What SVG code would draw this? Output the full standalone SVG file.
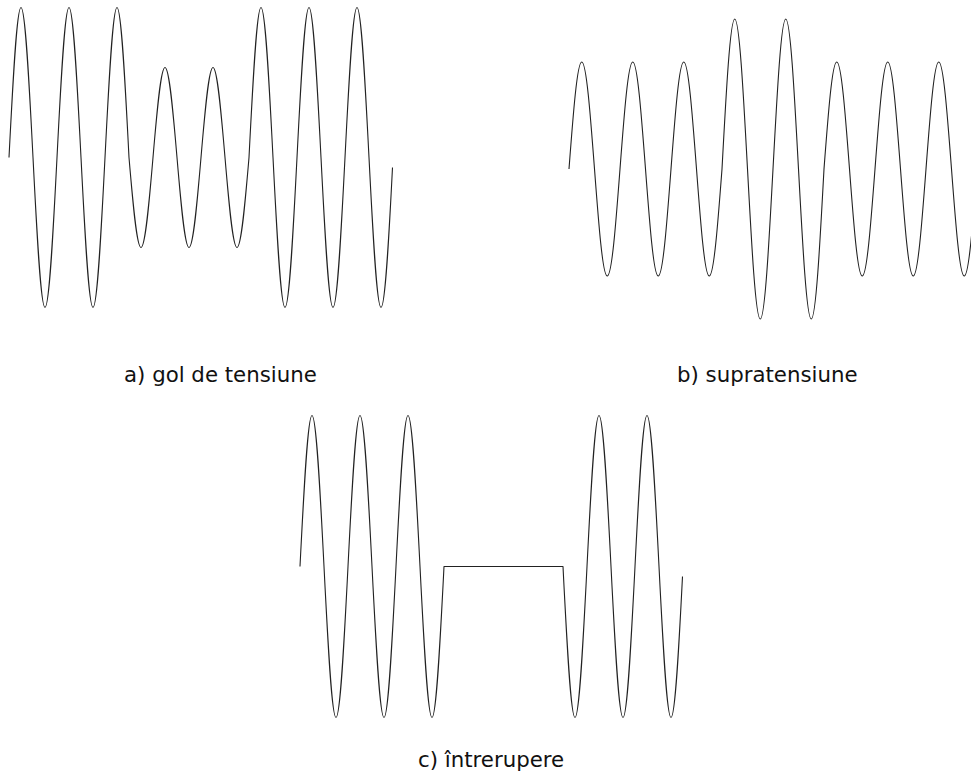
<svg xmlns="http://www.w3.org/2000/svg" width="971" height="774" viewBox="0 0 971 774">
<style>
.w{fill:none;stroke:#222;stroke-width:1.1;stroke-linejoin:round}
.t{font-family:"DejaVu Sans","Verdana",sans-serif;font-size:21.3px;fill:#111}
</style>
<rect width="971" height="774" fill="#fff"/>
<g id="wave-a">
<path class="w" d="M9,157.5
c 3.913,-76.85 7.657,-150 12,-150 c 4.343,0 8.087,73.15 12,150 c 3.913,76.85 7.657,150 12,150 c 4.343,0 8.087,-73.15 12,-150
c 3.913,-76.85 7.657,-150 12,-150 c 4.343,0 8.087,73.15 12,150 c 3.913,76.85 7.657,150 12,150 c 4.343,0 8.087,-73.15 12,-150
c 3.913,-76.85 7.657,-150 12,-150 c 4.343,0 8.087,73.15 12,150
c 3.913,46.11 7.657,90 12,90 c 4.343,0 8.087,-43.89 12,-90
c 3.913,-46.11 7.657,-90 12,-90 c 4.343,0 8.087,43.89 12,90 c 3.913,46.11 7.657,90 12,90 c 4.343,0 8.087,-43.89 12,-90
c 3.913,-46.11 7.657,-90 12,-90 c 4.343,0 8.087,43.89 12,90 c 3.913,46.11 7.657,90 12,90 c 4.343,0 8.087,-43.89 12,-90
c 3.913,-76.85 7.657,-150 12,-150 c 4.343,0 8.087,73.15 12,150 c 3.913,76.85 7.657,150 12,150 c 4.343,0 8.087,-73.15 12,-150
c 3.913,-76.85 7.657,-150 12,-150 c 4.343,0 8.087,73.15 12,150 c 3.913,76.85 7.657,150 12,150 c 4.343,0 8.087,-73.15 12,-150
c 3.913,-76.85 7.657,-150 12,-150 c 4.343,0 8.087,73.15 12,150 c 3.913,76.85 7.657,150 12,150 c 4.343,0 8.087,-73.15 11.5,-140"/>
<text class="t" x="124" y="382">a) gol de tensiune</text>
</g>
<g id="wave-b">
<path class="w" d="M569,169
c 4.158,-54.82 8.136,-107 12.75,-107 c 4.614,0 8.592,52.18 12.75,107 c 4.158,54.82 8.136,107 12.75,107 c 4.614,0 8.592,-52.18 12.75,-107
c 4.158,-54.82 8.136,-107 12.75,-107 c 4.614,0 8.592,52.18 12.75,107 c 4.158,54.82 8.136,107 12.75,107 c 4.614,0 8.592,-52.18 12.75,-107
c 4.158,-54.82 8.136,-107 12.75,-107 c 4.614,0 8.592,52.18 12.75,107 c 4.158,54.82 8.136,107 12.75,107 c 4.614,0 8.592,-52.18 12.75,-107
c 4.158,-76.85 8.136,-150 12.75,-150 c 4.614,0 8.592,73.15 12.75,150 c 4.158,76.85 8.136,150 12.75,150 c 4.614,0 8.592,-73.15 12.75,-150
c 4.158,-76.85 8.136,-150 12.75,-150 c 4.614,0 8.592,73.15 12.75,150 c 4.158,76.85 8.136,150 12.75,150 c 4.614,0 8.592,-73.15 12.75,-150
c 4.158,-54.82 8.136,-107 12.75,-107 c 4.614,0 8.592,52.18 12.75,107 c 4.158,54.82 8.136,107 12.75,107 c 4.614,0 8.592,-52.18 12.75,-107
c 4.158,-54.82 8.136,-107 12.75,-107 c 4.614,0 8.592,52.18 12.75,107 c 4.158,54.82 8.136,107 12.75,107 c 4.614,0 8.592,-52.18 12.75,-107
c 4.158,-54.82 8.136,-107 12.75,-107 c 4.614,0 8.592,52.18 12.75,107 c 4.158,54.82 8.136,107 12.75,107 c 4.614,0 8.592,-52.18 12.75,-107"/>
<text class="t" x="677" y="382">b) supratensiune</text>
</g>
<g id="wave-c">
<path class="w" d="M300,566.5
c 3.913,-77.36 7.657,-151 12,-151 c 4.343,0 8.087,73.64 12,151 c 3.913,77.36 7.657,151 12,151 c 4.343,0 8.087,-73.64 12,-151
c 3.913,-77.36 7.657,-151 12,-151 c 4.343,0 8.087,73.64 12,151 c 3.913,77.36 7.657,151 12,151 c 4.343,0 8.087,-73.64 12,-151
c 3.913,-77.36 7.657,-151 12,-151 c 4.343,0 8.087,73.64 12,151 c 3.913,77.36 7.657,151 12,151 c 4.343,0 8.087,-73.64 12,-151
L563,566.5
c 3.913,77.36 7.657,151 12,151 c 4.343,0 8.087,-73.64 12,-151
c 3.913,-77.36 7.657,-151 12,-151 c 4.343,0 8.087,73.64 12,151 c 3.913,77.36 7.657,151 12,151 c 4.343,0 8.087,-73.64 12,-151
c 3.913,-77.36 7.657,-151 12,-151 c 4.343,0 8.087,73.64 12,151 c 3.913,77.36 7.657,151 12,151 c 4.343,0 8.087,-73.64 11.5,-141"/>
<text class="t" x="418" y="767">c) întrerupere</text>
</g>
</svg>
